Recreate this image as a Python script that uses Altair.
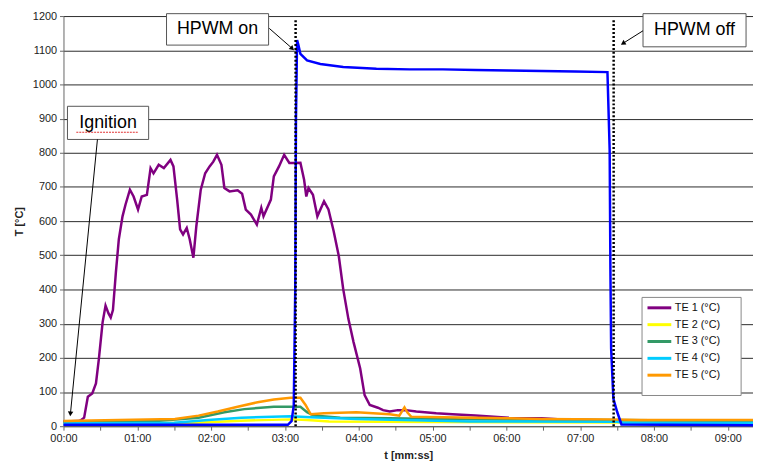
import altair as alt
import pandas as pd

# ---------------- data (time in minutes, temperature in °C) ----------------
series_names = ["TE 1 (°C)", "TE 2 (°C)", "TE 3 (°C)", "TE 4 (°C)", "TE 5 (°C)"]
series_colors = ["#800080", "#FFFF00", "#339966", "#00CCFF", "#FF9900"]

te1_t = [0, 0.20, 0.24, 0.28, 0.33, 0.39, 0.44, 0.48, 0.53, 0.57, 0.61, 0.64, 0.67, 0.71,
         0.75, 0.80, 0.84, 0.90, 0.95, 1.01, 1.06, 1.13, 1.18, 1.22, 1.29, 1.36, 1.45, 1.49,
         1.54, 1.58, 1.62, 1.67, 1.71, 1.76, 1.80, 1.86, 1.92, 1.98, 2.03, 2.08, 2.14, 2.18,
         2.25, 2.36, 2.42, 2.47, 2.54, 2.62, 2.68, 2.71, 2.81, 2.85, 2.92, 2.99, 3.06, 3.12,
         3.21, 3.26, 3.29, 3.32, 3.38, 3.44, 3.53, 3.59, 3.66, 3.73, 3.79, 3.86, 3.93, 4.02,
         4.08, 4.15, 4.26, 4.33, 4.42, 4.53, 4.64, 4.78, 5.05, 5.27, 5.58, 6.03, 6.48, 6.75,
         7.50, 9.40]
te1_v = [14, 15, 18, 25, 86, 96, 125, 198, 304, 353, 330, 318, 340, 450,
         547, 614, 648, 692, 672, 634, 672, 677, 755, 740, 765, 755, 779, 760,
         663, 576, 561, 580, 547, 493, 585, 692, 740, 760, 774, 794, 765, 697,
         687, 690, 680, 634, 619, 590, 639, 614, 663, 731, 760, 794, 770, 770,
         771, 721, 672, 697, 677, 614, 658, 634, 571, 498, 401, 314, 246, 169,
         91, 62, 54, 47, 43, 47, 47, 43, 38, 35, 31, 25, 23, 20,
         17, 15]

te2_t = [0, 1.80, 2.40, 3.08, 3.30, 3.60, 5.00, 9.40]
te2_v = [6, 10, 16, 20, 18, 14, 12, 10]

te3_t = [0, 1.30, 1.83, 2.18, 2.45, 2.85, 3.21, 3.30, 3.39, 3.75, 4.42, 5.50, 7.50, 9.40]
te3_v = [13, 16, 25, 41, 50, 57, 57, 41, 31, 25, 23, 20, 18, 15]

te4_t = [0, 1.50, 1.96, 2.41, 3.08, 3.35, 3.97, 4.60, 5.50, 7.50, 7.60, 9.40]
te4_v = [8, 10, 18, 25, 29, 26, 21, 18, 14, 13, 10, 10]

te5_t = [0, 0.75, 1.51, 1.83, 2.09, 2.36, 2.63, 2.85, 3.08, 3.21, 3.28, 3.35, 3.53, 3.97,
         4.42, 4.55, 4.62, 4.66, 4.71, 5.14, 5.58, 6.03, 6.48, 7.37, 7.82, 9.40]
te5_v = [15, 18, 21, 31, 43, 57, 70, 78, 83, 83, 62, 35, 38, 41,
         35, 31, 55, 40, 28, 26, 25, 23, 21, 20, 18, 18]

hpwm_t = [0, 3.04, 3.09, 3.12, 3.14, 3.15, 3.165, 3.18, 3.21, 3.30, 3.48, 3.79, 4.24, 4.69,
          5.14, 5.58, 6.03, 6.48, 6.93, 7.37, 7.40, 7.41, 7.42, 7.45, 7.50, 7.56, 9.40]
hpwm_v = [4, 4, 15, 60, 400, 900, 1130, 1118, 1089, 1070, 1060, 1051, 1046, 1044,
          1044, 1042, 1041, 1039, 1038, 1036, 808, 459, 227, 81, 43, 5, 3]

event_names = ["HPWM on", "HPWM off"]
event_t = [3.145, 7.454]

x_ticks = [0, 0.5, 1, 1.5, 2, 2.5, 3, 3.5, 4, 4.5, 5, 5.5, 6, 6.5, 7, 7.5, 8, 8.5, 9]
y_ticks = [0, 100, 200, 300, 400, 500, 600, 700, 800, 900, 1000, 1100, 1200]

# annotation callouts (text, box corners, text anchor, arrow start/end, arrowhead angle)
ann_text = ["HPWM on", "HPWM off", "Ignition"]
ann_x1 = [1.396, 7.852, 0.054]
ann_x2 = [2.779, 9.248, 1.154]
ann_y1 = [1207, 1207, 936]
ann_y2 = [1115, 1110, 839]
ann_tx = [2.087, 8.55, 0.604]
ann_ty = [1161, 1159, 888]
arr_x1 = [2.788, 7.852, 0.46]
arr_y1 = [1164, 1157, 839]
arr_x2 = [3.10, 7.58, 0.094]
arr_y2 = [1105, 1120, 36]
arr_angle = [313, 58, 5]

# ---------------- tables ----------------
rows = []
for i, (name, ts, vs) in enumerate(zip(series_names,
                                       [te1_t, te2_t, te3_t, te4_t, te5_t],
                                       [te1_v, te2_v, te3_v, te4_v, te5_v])):
    for t, v in zip(ts, vs):
        rows.append({"series": name, "t": t, "v": v, "k": i})
te_df = pd.DataFrame(rows)
hp_df = pd.DataFrame({"t": hpwm_t, "v": hpwm_v})
ev_df = pd.DataFrame({"name": event_names, "t": event_t, "top": [1188, 1188], "bot": [0, 0]})
ann_df = pd.DataFrame({"text": ann_text, "x1": ann_x1, "x2": ann_x2, "y1": ann_y1, "y2": ann_y2,
                       "tx": ann_tx, "ty": ann_ty, "ax1": arr_x1, "ay1": arr_y1,
                       "ax2": arr_x2, "ay2": arr_y2, "ang": arr_angle})

FONT = "Liberation Sans"
xscale = alt.Scale(domain=[0, 9.342], nice=False, zero=False)
yscale = alt.Scale(domain=[0, 1200], nice=False)

x_axis = alt.Axis(values=x_ticks,
                  labelExpr="datum.value % 1 == 0 ? ('0' + datum.value + ':00') : ''",
                  grid=False, tickSize=4, tickColor="#666", domainColor="#666",
                  labelFont=FONT, labelFontSize=11, labelColor="#222", labelPadding=2,
                  labelOverlap=False,
                  title="t [mm:ss]", titleFont=FONT, titleFontSize=11, titleFontWeight="bold",
                  titleColor="#222", titlePadding=7, labelFlush=False)
y_axis = alt.Axis(values=y_ticks, format="d", labelOverlap=False, grid=True,
                  gridColor="#2a2a2a", gridWidth=1,
                  tickSize=4, tickColor="#666", domainColor="#666",
                  labelFont=FONT, labelFontSize=11, labelColor="#222", labelPadding=3,
                  labelFlush=False,
                  title="T [°C]", titleFont=FONT, titleFontSize=11, titleFontWeight="bold",
                  titleColor="#222", titlePadding=8)


def X(field):
    return alt.X(field, type="quantitative", scale=xscale, axis=x_axis)


def Y(field):
    return alt.Y(field, type="quantitative", scale=yscale, axis=y_axis)


legend_box = alt.Chart(pd.DataFrame({"a": [0]})).mark_rect(
    fill="white", stroke="#888", strokeWidth=1).encode(
    x=alt.value(584), x2=alt.value(684), y=alt.value(284), y2=alt.value(383))

te_lines = alt.Chart(te_df).mark_line(strokeWidth=2.5, interpolate="linear").encode(
    x=X("t"), y=Y("v"),
    color=alt.Color("series:N",
                    scale=alt.Scale(domain=series_names, range=series_colors),
                    legend=alt.Legend(orient="none", legendX=584, legendY=283, title=None,
                                      symbolType="M-1,0H3", symbolSize=144, symbolStrokeWidth=3,
                                      labelFont=FONT, labelFontSize=11, labelColor="#111",
                                      labelOffset=14, rowPadding=3, padding=4)),
    detail="series:N",
    order="k:Q")

hp_line = alt.Chart(hp_df).mark_line(strokeWidth=2.5, color="#0000FF").encode(
    x=X("t"), y=Y("v"))

ev_lines = alt.Chart(ev_df).mark_rule(color="black", strokeWidth=2.5, strokeDash=[2, 2]).encode(
    x=X("t"), y=Y("top"), y2="bot:Q")

boxes = alt.Chart(ann_df).mark_rect(fill="white", stroke="#555", strokeWidth=1).encode(
    x=X("x1"), x2="x2:Q", y=Y("y1"), y2="y2:Q")
texts = alt.Chart(ann_df).mark_text(font=FONT, fontSize=18, color="black",
                                    align="center", baseline="middle").encode(
    x=X("tx"), y=Y("ty"), text="text:N")
arrows = alt.Chart(ann_df).mark_rule(color="black", strokeWidth=1).encode(
    x=X("ax1"), y=Y("ay1"), x2="ax2:Q", y2="ay2:Q")
heads = alt.Chart(ann_df).mark_point(shape="triangle-down", filled=True, color="black",
                                     size=30, opacity=1).encode(
    x=X("ax2"), y=Y("ay2"), angle=alt.Angle("ang:Q", scale=None))

underline_df = pd.DataFrame({"x1": [0.174], "x2": [1.02], "y": [860]})
underline = alt.Chart(underline_df).mark_rule(color="#e03030", strokeWidth=1,
                                              strokeDash=[2, 1]).encode(
    x=X("x1"), x2="x2:Q", y=Y("y"))

chart = alt.layer(legend_box, te_lines, hp_line, ev_lines, boxes, texts, underline,
                  arrows, heads).properties(
    width=696, height=414,
    autosize=alt.AutoSizeParams(type="none"),
    padding={"left": 56, "top": 6, "right": 0, "bottom": 34},
    background="white",
).configure_view(stroke=None)

chart.save("out.html", embed_options={"renderer": "svg", "actions": False})
